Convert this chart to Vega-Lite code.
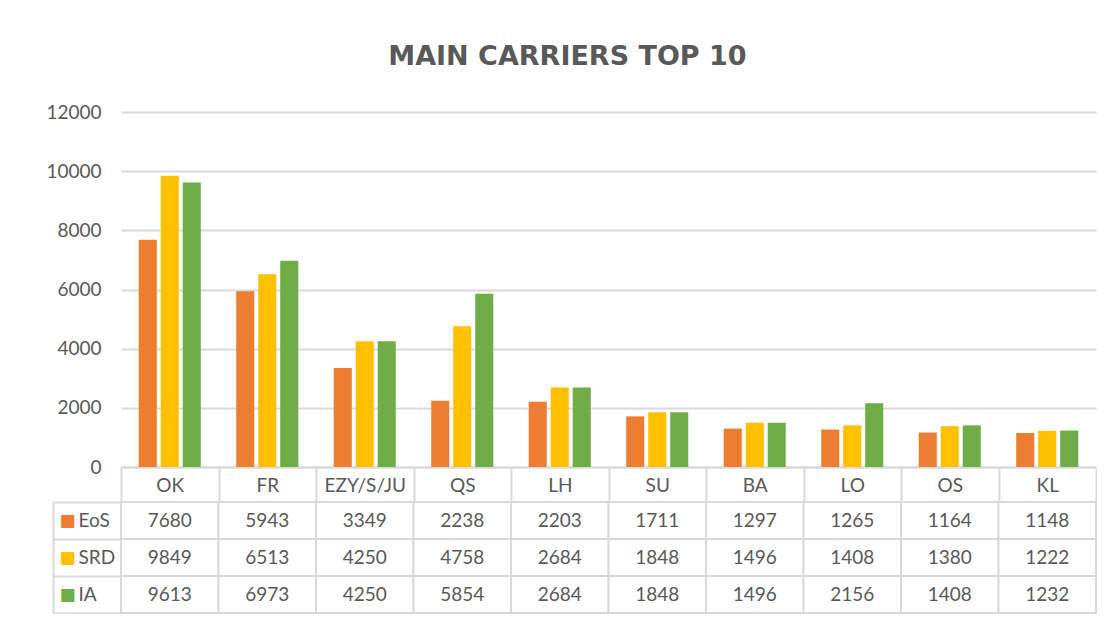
{
  "$schema": "https://vega.github.io/schema/vega-lite/v6.json",
  "padding": {"left": 45, "top": 43, "right": 0, "bottom": 0},
  "background": "white",
  "title": {"text": "MAIN CARRIERS TOP 10", "font": "DejaVu Sans", "fontSize": 27, "fontWeight": "bold", "color": "#595959", "anchor": "middle", "offset": 32, "dx": -4},
  "bounds": "flush",
  "spacing": 35,
  "data": {"values": [
    {"carrier": "OK", "series": "EoS", "value": 7680}, {"carrier": "OK", "series": "SRD", "value": 9849}, {"carrier": "OK", "series": "IA", "value": 9613},
    {"carrier": "FR", "series": "EoS", "value": 5943}, {"carrier": "FR", "series": "SRD", "value": 6513}, {"carrier": "FR", "series": "IA", "value": 6973},
    {"carrier": "EZY/S/JU", "series": "EoS", "value": 3349}, {"carrier": "EZY/S/JU", "series": "SRD", "value": 4250}, {"carrier": "EZY/S/JU", "series": "IA", "value": 4250},
    {"carrier": "QS", "series": "EoS", "value": 2238}, {"carrier": "QS", "series": "SRD", "value": 4758}, {"carrier": "QS", "series": "IA", "value": 5854},
    {"carrier": "LH", "series": "EoS", "value": 2203}, {"carrier": "LH", "series": "SRD", "value": 2684}, {"carrier": "LH", "series": "IA", "value": 2684},
    {"carrier": "SU", "series": "EoS", "value": 1711}, {"carrier": "SU", "series": "SRD", "value": 1848}, {"carrier": "SU", "series": "IA", "value": 1848},
    {"carrier": "BA", "series": "EoS", "value": 1297}, {"carrier": "BA", "series": "SRD", "value": 1496}, {"carrier": "BA", "series": "IA", "value": 1496},
    {"carrier": "LO", "series": "EoS", "value": 1265}, {"carrier": "LO", "series": "SRD", "value": 1408}, {"carrier": "LO", "series": "IA", "value": 2156},
    {"carrier": "OS", "series": "EoS", "value": 1164}, {"carrier": "OS", "series": "SRD", "value": 1380}, {"carrier": "OS", "series": "IA", "value": 1408},
    {"carrier": "KL", "series": "EoS", "value": 1148}, {"carrier": "KL", "series": "SRD", "value": 1222}, {"carrier": "KL", "series": "IA", "value": 1232}
  ]},
  "config": {"view": {"stroke": null}, "font": "Lato"},
  "vconcat": [
    {
      "width": 975,
      "height": 355,
      "mark": {"type": "bar"},
      "encoding": {
        "x": {"field": "carrier", "type": "nominal", "sort": ["OK", "FR", "EZY/S/JU", "QS", "LH", "SU", "BA", "LO", "OS", "KL"],
          "scale": {"paddingInner": 0, "paddingOuter": 0},
          "axis": {"title": null, "labelAngle": 0, "tickBand": "extent", "ticks": true, "tickSize": 34, "tickColor": "#D9D9D9", "tickWidth": 2,
            "domainColor": "#D9D9D9", "domainWidth": 2, "labelPadding": -25, "labelFont": "Lato", "labelFontSize": 19, "labelColor": "#595959", "grid": false}},
        "xOffset": {"field": "series", "type": "nominal", "sort": ["EoS", "SRD", "IA"], "scale": {"paddingInner": 0.18, "paddingOuter": 0.806}},
        "y": {"field": "value", "type": "quantitative", "scale": {"domain": [0, 12000], "nice": false},
          "axis": {"title": null, "values": [0, 2000, 4000, 6000, 8000, 10000, 12000], "format": "d", "domain": false, "ticks": false, "labelPadding": 20,
            "labelFont": "Lato", "labelFontSize": 19, "labelColor": "#595959", "gridColor": "#D9D9D9", "gridWidth": 2}},
        "color": {"field": "series", "type": "nominal", "scale": {"domain": ["EoS", "SRD", "IA"], "range": ["#ED7D31", "#FFC000", "#70AD47"]}, "legend": null}
      }
    },
    {
      "width": 975,
      "height": 111,
      "layer": [
        {
          "mark": {"type": "rect", "fill": "white", "stroke": "#D9D9D9", "strokeWidth": 2},
          "encoding": {
            "x": {"field": "carrier", "type": "nominal", "sort": ["OK", "FR", "EZY/S/JU", "QS", "LH", "SU", "BA", "LO", "OS", "KL"], "scale": {"padding": 0}, "axis": null},
            "y": {"field": "series", "type": "nominal", "sort": ["EoS", "SRD", "IA"], "scale": {"type": "band", "padding": 0},
              "axis": {"title": null, "orient": "left", "domain": false, "ticks": true, "tickBand": "extent", "tickSize": 68, "tickColor": "#D9D9D9", "tickWidth": 2,
                "labelAlign": "left", "labelPadding": -25, "labelFont": "Lato", "labelFontSize": 19, "labelColor": "#595959"}}
          }
        },
        {
          "mark": {"type": "text", "font": "Lato", "fontSize": 19, "color": "#595959"},
          "encoding": {
            "x": {"field": "carrier", "type": "nominal", "sort": ["OK", "FR", "EZY/S/JU", "QS", "LH", "SU", "BA", "LO", "OS", "KL"], "axis": null},
            "y": {"field": "series", "type": "nominal", "sort": ["EoS", "SRD", "IA"], "scale": {"type": "band", "padding": 0},
              "axis": {"title": null, "orient": "left", "offset": 68, "domain": true, "domainColor": "#D9D9D9", "domainWidth": 2, "ticks": false,
                "labelExpr": "'■'", "labelAlign": "left", "labelPadding": -6, "labelFont": "DejaVu Sans", "labelFontSize": 17,
                "labelColor": {"expr": "datum.value === 'EoS' ? '#ED7D31' : datum.value === 'SRD' ? '#FFC000' : '#70AD47'"}}},
            "text": {"field": "value", "type": "quantitative"}
          }
        }
      ],
      "resolve": {"scale": {"y": "independent"}, "axis": {"y": "independent"}}
    }
  ]
}
